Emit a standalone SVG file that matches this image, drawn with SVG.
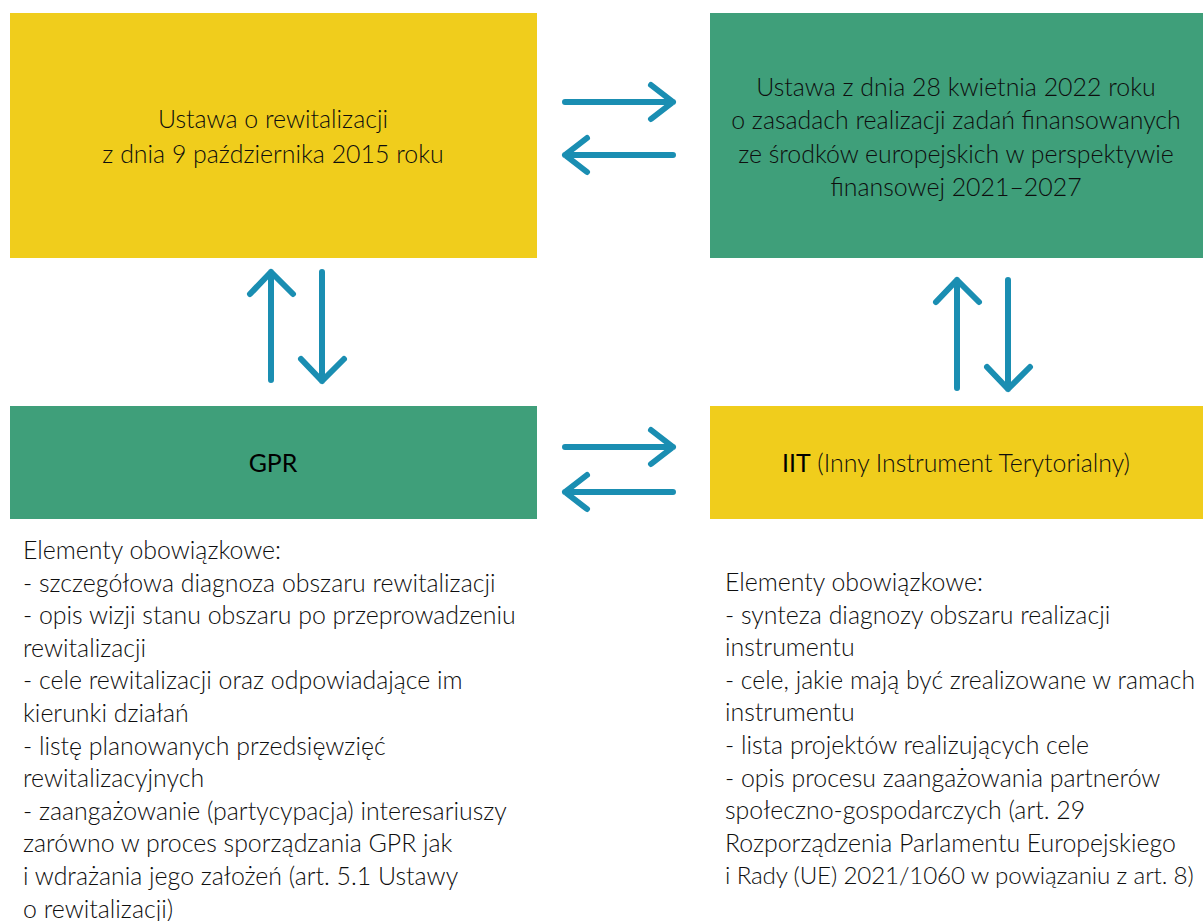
<svg xmlns="http://www.w3.org/2000/svg" width="1203" height="921" viewBox="0 0 1203 921">
<style>
.y{fill:#F0CD1C}
.g{fill:#3F9F7A}
.t{font-family:Lato,"Open Sans","Liberation Sans",sans-serif;font-size:24.9px;fill:#0e0e0e;font-weight:300}
.c{text-anchor:middle}
.b{font-weight:400;fill:#000}
.n{font-size:24.2px;letter-spacing:-0.15px}
.a{fill:none;stroke:#1A8EB2;stroke-width:6;stroke-linecap:round;stroke-linejoin:round}
</style>
<rect width="1203" height="921" fill="#fff"/>
<g id="ustawa-rewitalizacja">
<rect class="y" x="10" y="13" width="527" height="245"/>
<text class="t c" x="273" y="128">Ustawa o rewitalizacji</text>
<text class="t c" x="273" y="163">z dnia 9 października 2015 roku</text>
</g>
<g id="ustawa-2022">
<rect class="g" x="710" y="13" width="493" height="245"/>
<text class="t c" x="956" y="96">Ustawa z dnia 28 kwietnia 2022 roku</text>
<text class="t c" x="956" y="129">o zasadach realizacji zadań finansowanych</text>
<text class="t c" x="956" y="163">ze środków europejskich w perspektywie</text>
<text class="t c" x="956" y="196">finansowej 2021–2027</text>
</g>
<g id="gpr">
<rect class="g" x="10" y="406" width="527" height="113"/>
<text class="t c b" x="273" y="472">GPR</text>
</g>
<g id="iit">
<rect class="y" x="710" y="406" width="493" height="113"/>
<text class="t c" x="956" y="472"><tspan class="b">IIT</tspan> (Inny Instrument Terytorialny)</text>
</g>
<g id="gpr-elementy">
<text class="t" x="23" y="559">Elementy obowiązkowe:</text>
<text class="t" x="23" y="591.6">- szczegółowa diagnoza obszaru rewitalizacji</text>
<text class="t" x="23" y="624.2">- opis wizji stanu obszaru po przeprowadzeniu</text>
<text class="t" x="23" y="656.8">rewitalizacji</text>
<text class="t" x="23" y="689.4">- cele rewitalizacji oraz odpowiadające im</text>
<text class="t" x="23" y="722">kierunki działań</text>
<text class="t" x="23" y="754.6">- listę planowanych przedsięwzięć</text>
<text class="t" x="23" y="787.2">rewitalizacyjnych</text>
<text class="t" x="23" y="819.8">- zaangażowanie (partycypacja) interesariuszy</text>
<text class="t" x="23" y="852.4">zarówno w proces sporządzania GPR jak</text>
<text class="t" x="23" y="885">i wdrażania jego założeń (art. 5.1 Ustawy</text>
<text class="t" x="23" y="917.6">o rewitalizacji)</text>
</g>
<g id="iit-elementy">
<text class="t" x="725" y="591">Elementy obowiązkowe:</text>
<text class="t" x="725" y="623.6">- synteza diagnozy obszaru realizacji</text>
<text class="t" x="725" y="656.2">instrumentu</text>
<text class="t" x="725" y="688.8" textLength="470" lengthAdjust="spacingAndGlyphs">- cele, jakie mają być zrealizowane w ramach</text>
<text class="t" x="725" y="721.4">instrumentu</text>
<text class="t" x="725" y="754">- lista projektów realizujących cele</text>
<text class="t" x="725" y="786.6">- opis procesu zaangażowania partnerów</text>
<text class="t" x="725" y="819.2">społeczno-gospodarczych (art. 29</text>
<text class="t" x="725" y="851.8">Rozporządzenia Parlamentu Europejskiego</text>
<text class="t n" x="725" y="884.4">i Rady (UE) 2021/1060 w powiązaniu z art. 8)</text>
</g>
<g id="connectors">
<path class="a" d="M565 102H673M651 85L673 102L651 119"/>
<path class="a" d="M673 155H565M587 138L565 155L587 172"/>
<path class="a" d="M565 447H673M651 430L673 447L651 464"/>
<path class="a" d="M673 492H565M587 475L565 492L587 509"/>
<path class="a" d="M271 380V272M250 294L271 272L293 294"/>
<path class="a" d="M322 272V381M301 359L322 381L344 359"/>
<path class="a" d="M957 388V280M936 302L957 280L979 302"/>
<path class="a" d="M1008 280V389M987 367L1008 389L1030 367"/>
</g>
</svg>
